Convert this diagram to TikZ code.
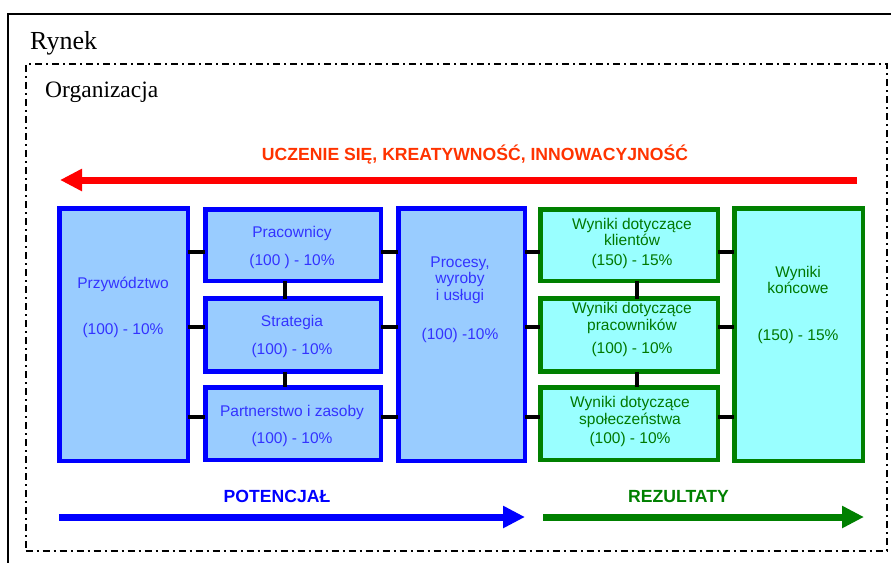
\documentclass[tikz,border=0pt]{standalone}
\usepackage{fontspec}
\setmainfont{Liberation Serif}
\newfontfamily\arialf{Liberation Sans}
\usetikzlibrary{arrows.meta}
\definecolor{bfill}{RGB}{153,204,255}
\definecolor{bline}{RGB}{0,0,255}
\definecolor{btext}{RGB}{51,51,255}
\definecolor{gfill}{RGB}{153,255,255}
\definecolor{gline}{RGB}{0,128,0}
\definecolor{gtext}{RGB}{0,120,0}
\definecolor{rarrow}{RGB}{255,0,0}
\definecolor{rtext}{RGB}{255,51,0}
\tikzset{
  bluebox/.style={draw=bline, fill=bfill, line width=4.5pt, inner sep=0pt, outer sep=0pt},
  greenbox/.style={draw=gline, fill=gfill, line width=4.5pt, inner sep=0pt, outer sep=0pt},
  btxt/.style={anchor=base, inner sep=0pt, text=btext, font=\arialf\fontsize{15.5}{16.5}\selectfont},
  gtxt/.style={anchor=base, inner sep=0pt, text=gtext, font=\arialf\fontsize{15.5}{16.5}\selectfont},
  headtxt/.style={anchor=base, inner sep=0pt, font=\arialf\bfseries\fontsize{17.6}{19}\selectfont},
  link/.style={draw=black, line width=4pt},
  bigarrow/.style={line width=7pt, -{Triangle[length=22pt,width=21pt]}},
  orgframe/.style={draw=black, line width=2pt, dash pattern=on 7pt off 4pt on 2pt off 4pt},
}
\begin{document}
\begin{tikzpicture}[x=1pt,y=-1pt]
\useasboundingbox (0,0) rectangle (891,562);
% outer frame (Rynek), extends beyond the picture
\coordinate (rbl) at (8,620);
\coordinate (rtl) at (8,14);
\coordinate (rtr) at (950,14);
\draw[line width=1.8pt] (rbl) -- (rtl) -- (rtr);
\node[anchor=base west, inner sep=0pt, font=\fontsize{26}{28}\selectfont] (rynek) at (30,49) {Rynek};
% organization frame
\node[orgframe, minimum width=861pt, minimum height=487pt, inner sep=0pt, outer sep=0pt, anchor=north west] (org) at (25.5,64) {};
\node[anchor=base west, inner sep=0pt, font=\fontsize{23.5}{25}\selectfont] (orgl) at (45,97) {Organizacja};

% red arrow
\node[headtxt, text=rtext] (uczenie) at (475,160) {UCZENIE SIĘ, KREATYWNOŚĆ, INNOWACYJNOŚĆ};
\coordinate (rs) at (857,180);
\coordinate (re) at (60,180);
\draw[bigarrow, draw=rarrow, fill=rarrow] (rs) -- (re);

% boxes
\node[bluebox, minimum width=128.5pt, minimum height=252.5pt] (przyw) at (123.5,334.5) {};
\node[bluebox, minimum width=175.5pt, minimum height=71.5pt] (prac) at (293,245) {};
\node[bluebox, minimum width=175.5pt, minimum height=73pt] (strat) at (293,335) {};
\node[bluebox, minimum width=175.5pt, minimum height=72.5pt] (partn) at (293,423.5) {};
\node[bluebox, minimum width=126.5pt, minimum height=252.5pt] (proc) at (461.5,334.5) {};
\node[greenbox, minimum width=177.5pt, minimum height=71.5pt] (wk) at (629,245) {};
\node[greenbox, minimum width=177.5pt, minimum height=73pt] (wp) at (629,335) {};
\node[greenbox, minimum width=177.5pt, minimum height=72.5pt] (ws) at (629,423.5) {};
\node[greenbox, minimum width=128.5pt, minimum height=252.5pt] (wkon) at (798.5,334.5) {};

% connectors: vertical
\draw[link] ([xshift=-8.5pt]prac.south) -- ([xshift=-8.5pt]strat.north);
\draw[link] ([xshift=-8.5pt]strat.south) -- ([xshift=-8.5pt]partn.north);
\draw[link] ([xshift=8pt]wk.south) -- ([xshift=8pt]wp.north);
\draw[link] ([xshift=8pt]wp.south) -- ([xshift=8pt]ws.north);
% connectors: horizontal
\foreach \l/\r in {przyw/prac, prac/proc, proc/wk, wk/wkon}{
  \draw[link] (\l.east |- 0,252) -- (\r.west |- 0,252);
}
\foreach \l/\r in {przyw/strat, strat/proc, proc/wp, wp/wkon}{
  \draw[link] (\l.east |- 0,327) -- (\r.west |- 0,327);
}
\foreach \l/\r in {przyw/partn, partn/proc, proc/ws, ws/wkon}{
  \draw[link] (\l.east |- 0,417) -- (\r.west |- 0,417);
}

% box texts
\node[btxt] (t1a) at (123,288) {Przywództwo};
\node[btxt] (t1b) at (123,334) {(100) - 10\%};
\node[btxt] (t2a) at (292,237) {Pracownicy};
\node[btxt] (t2b) at (292,265) {(100 ) - 10\%};
\node[btxt] (t3a) at (292,326) {Strategia};
\node[btxt] (t3b) at (292,354) {(100) - 10\%};
\node[btxt] (t4a) at (292,416) {Partnerstwo i zasoby};
\node[btxt] (t4b) at (292,443) {(100) - 10\%};
\node[btxt] (t5a) at (460,267) {Procesy,};
\node[btxt] (t5b) at (460,283) {wyroby};
\node[btxt] (t5c) at (460,300) {i usługi};
\node[btxt] (t5d) at (460,339) {(100) -10\%};
\node[gtxt] (t6a) at (632,229) {Wyniki dotyczące};
\node[gtxt] (t6b) at (632,245.5) {klientów};
\node[gtxt] (t6c) at (632,265) {(150) - 15\%};
\node[gtxt] (t7a) at (632,313) {Wyniki dotyczące};
\node[gtxt] (t7b) at (632,330) {pracowników};
\node[gtxt] (t7c) at (632,353) {(100) - 10\%};
\node[gtxt] (t8a) at (630,407) {Wyniki dotyczące};
\node[gtxt] (t8b) at (630,424) {społeczeństwa};
\node[gtxt] (t8c) at (630,443) {(100) - 10\%};
\node[gtxt] (t9a) at (798,277) {Wyniki};
\node[gtxt] (t9b) at (798,293) {końcowe};
\node[gtxt] (t9c) at (798,340) {(150) - 15\%};

% bottom arrows
\node[headtxt, text=bline] (pot) at (277,502) {POTENCJAŁ};
\node[headtxt, text=gline] (rez) at (678.5,502) {REZULTATY};
\coordinate (bs) at (59,517);
\coordinate (be) at (525,517);
\coordinate (gs) at (543,517);
\coordinate (ge) at (864,517);
\draw[bigarrow, draw=bline, fill=bline] (bs) -- (be);
\draw[bigarrow, draw=gline, fill=gline] (gs) -- (ge);
\end{tikzpicture}
\end{document}
